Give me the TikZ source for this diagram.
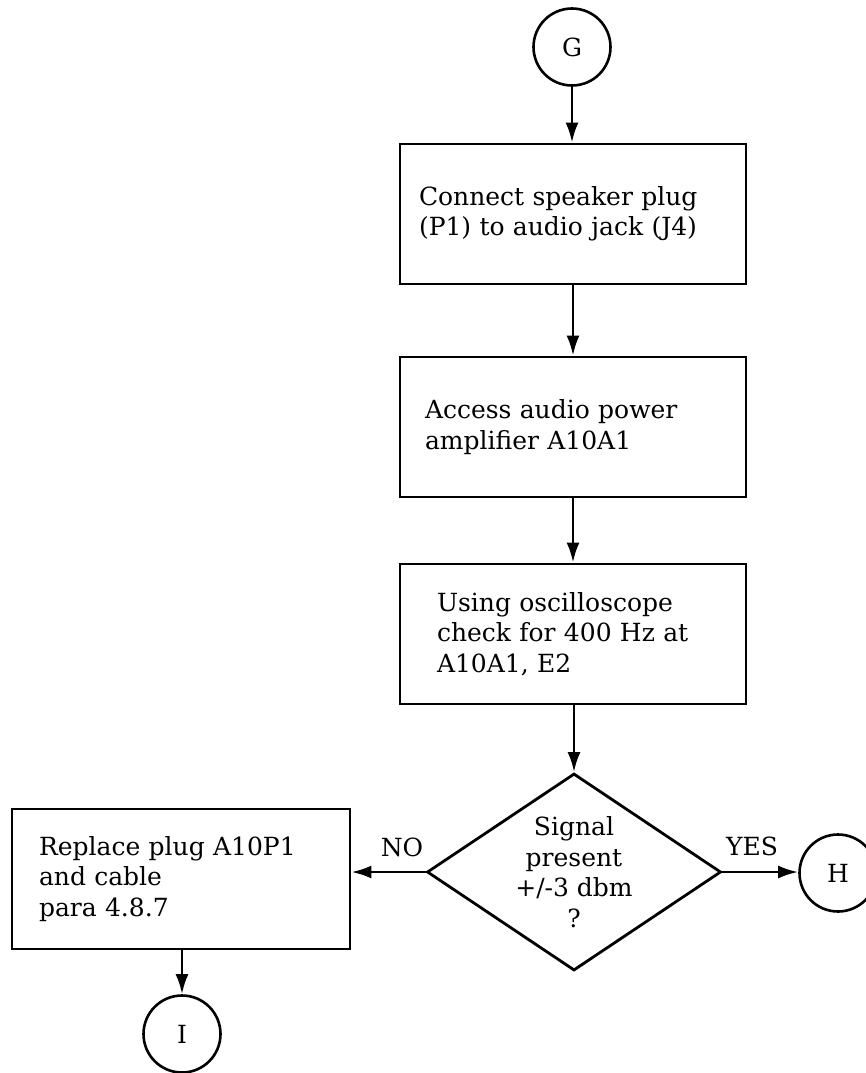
\documentclass[tikz,border=0pt]{standalone}
\usepackage{fontspec}
\setmainfont{DejaVu Serif}
\usetikzlibrary{arrows.meta,shapes.geometric}

\begin{document}
\begin{tikzpicture}[x=1pt,y=-1pt,
    every node/.style={font=\fontsize{25}{30.5}\selectfont},
    stepbox/.style={draw,line width=2.8pt,minimum width=346pt,minimum height=140pt,align=left},
    termcircle/.style={draw,circle,line width=2.6pt,minimum size=77pt,inner sep=0pt},
    decbox/.style={draw,diamond,line width=2.8pt,aspect=1.49,minimum width=294pt,minimum height=197pt,inner sep=0pt,align=center},
    flow/.style={-{Latex[length=20pt,width=13pt]},line width=2.8pt}]
    \useasboundingbox (0,0) rectangle (866,1073);

    % Entry point
    \node[termcircle] (G) at (572,47) {G};

    % Steps
    \node[stepbox,inner xsep=19pt,text width=308pt] (connect) at (573,214)
        {Connect speaker plug\\(P1) to audio jack (J4)};
    \node[stepbox,inner xsep=25pt,text width=296pt] (access) at (573,427)
        {Access audio power\\amplifier A10A1};
    \node[stepbox,inner xsep=37pt,text width=272pt] (scope) at (573,634)
        {Using oscilloscope\\check for 400 Hz at\\A10A1, E2};

    % Decision
    \node[decbox] (signal) at (574,872) {Signal\\present\\+/-3 dbm\\?};

    % Branches
    \node[stepbox,minimum width=338pt,inner xsep=27pt,text width=284pt] (replace) at (181,879)
        {Replace plug A10P1\\and cable\\para 4.8.7};
    \node[termcircle] (H) at (838,873) {H};
    \node[termcircle] (I) at (182,1034) {I};

    % Connectors
    \draw[flow] (G) -- (G |- connect.north);
    \draw[flow] (connect) -- (access);
    \draw[flow] (access) -- (scope);
    \draw[flow] (scope.south -| signal.north) -- (signal);
    \draw[flow] (signal.west) -- (signal.west -| replace.east);
    \draw[flow] (signal.east) -- (signal.east -| H.west);
    \draw[flow] (replace.south -| I.north) -- (I);

    % Branch labels
    \node (no) at (402,847) {NO};
    \node (yes) at (752,846) {YES};
\end{tikzpicture}
\end{document}
